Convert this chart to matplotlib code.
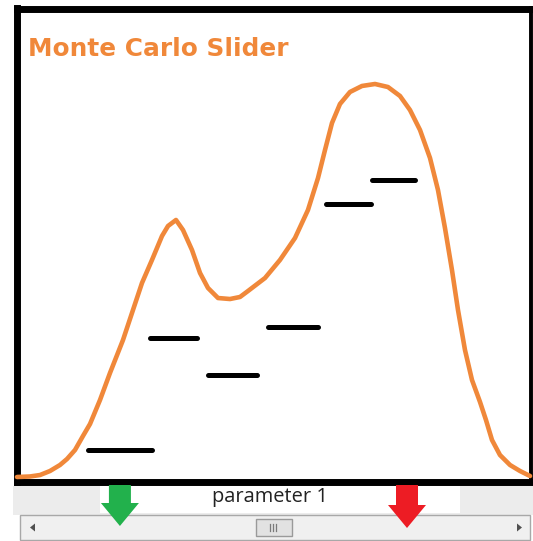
import matplotlib
matplotlib.use("Agg")
import matplotlib.pyplot as plt
from matplotlib.patches import Rectangle, Polygon

# ---- data (parameter value 0..100, density 0..100) ----
curve_x = [0.1, 2.6, 4.57, 6.51, 8.45, 9.82, 11.37, 12.92, 14.29, 16.23, 18.17, 20.70,
           22.64, 24.39, 26.33, 28.28, 29.45, 31.0, 32.36, 34.11, 35.67, 37.22, 39.17,
           41.5, 43.44, 44.99, 48.3, 51.21, 54.13, 56.65, 58.6, 59.96, 61.32,
           62.87, 64.82, 67.15, 69.68, 72.2, 74.54, 76.48, 78.43, 80.37, 81.92, 83.28,
           84.64, 85.81, 87.17, 88.53, 90.09, 91.25, 92.42, 93.97, 95.92, 97.86, 99.81]
curve_y = [0.95, 1.06, 1.37, 2.22, 3.49, 4.76, 6.66, 9.62, 12.16, 17.23, 22.94, 29.92,
           36.26, 41.97, 46.83, 51.90, 54.02, 55.29, 53.17, 48.94, 44.08, 40.91, 38.79,
           38.58, 39.01, 40.27, 43.02, 46.83, 51.48, 57.4, 64.16, 70.08, 75.79,
           79.81, 82.35, 83.62, 84.04, 83.4, 81.5, 78.54, 74.31, 68.39, 61.63, 53.59,
           44.71, 36.26, 27.8, 21.46, 16.81, 13.0, 8.77, 5.6, 3.49, 2.22, 1.16]

bar_x0 = [13.9, 25.9, 37.2, 48.9, 60.2, 69.1]
bar_x1 = [26.3, 35.1, 46.7, 58.6, 68.9, 77.5]
bar_y = [6.66, 30.3, 22.5, 32.7, 58.7, 63.7]

marker_low = 20.1    # green arrow
marker_high = 75.9   # red arrow

title = "Monte Carlo Slider"
slider_label = "parameter 1"

# ---- layout (pixels) ----
W, H = 533, 541
L, R, T, B = 16.5, 531.0, 8.5, 481.5
fig = plt.figure(figsize=(W / 100, H / 100), dpi=100)
fig.patch.set_facecolor("white")

ax = fig.add_axes([L / W, (H - B) / H, (R - L) / W, (B - T) / H])
ax.set_xlim(0, 100)
ax.set_ylim(0, 100)
ax.set_xticks([])
ax.set_yticks([])
for side in ["left", "top", "bottom"]:
    ax.spines[side].set_linewidth(5.0)
    ax.spines[side].set_color("black")
ax.spines["right"].set_linewidth(2.8)
ax.spines["right"].set_color("black")

orange = "#F0883A"
ax.plot(curve_x, curve_y, color=orange, lw=3.3, solid_capstyle="round",
        solid_joinstyle="round", clip_on=False, zorder=3)
bars = ax.hlines(bar_y, bar_x0, bar_x1, colors="black", lw=3.6, zorder=4)
bars.set_capstyle("round")

fig.text(28 / W, 1 - 49 / H, title, color=orange, fontsize=17.8, fontweight="bold",
         family="DejaVu Sans", ha="left", va="center")

# ---- decoration overlay in pixel coordinates ----
d = fig.add_axes([0, 0, 1, 1], facecolor="none")
d.set_xlim(0, W)
d.set_ylim(H, 0)
d.axis("off")

def px(v):
    return L + v * (R - L) / 100.0

# label band
d.add_patch(Rectangle((13, 486), 520, 29, facecolor="#ECECEC", edgecolor="none"))
d.add_patch(Rectangle((100, 486), 360, 27, facecolor="white", edgecolor="none"))
d.text(270, 497, slider_label, ha="center", va="center", fontsize=14.4,
       family="Open Sans", color="#222222")

# scrollbar
d.add_patch(Rectangle((20, 515), 510, 25, facecolor="#F0F0F0", edgecolor="#A8A8A8", lw=1.0))
d.add_patch(Rectangle((256, 519), 36, 17, facecolor="#E2E2E2", edgecolor="#9A9A9A", lw=1.0))
for gx in (270, 273, 276):
    d.plot([gx, gx], [524, 531], color="#7A7A7A", lw=0.9)
d.add_patch(Polygon([[30, 527.5], [35, 523.5], [35, 531.5]], closed=True, facecolor="#505050", edgecolor="none"))
d.add_patch(Polygon([[522, 527.5], [517, 523.5], [517, 531.5]], closed=True, facecolor="#505050", edgecolor="none"))

def arrow(xc, color, y0, yh, ytip):
    sw, hw = 11, 19
    pts = [[xc - sw, y0], [xc + sw, y0], [xc + sw, yh], [xc + hw, yh],
           [xc, ytip], [xc - hw, yh], [xc - sw, yh]]
    d.add_patch(Polygon(pts, closed=True, facecolor=color, edgecolor="none", zorder=5))

arrow(px(marker_low), "#22B14C", 485, 503, 526)
arrow(px(marker_high), "#ED1C24", 485, 505, 528)

fig.savefig("out.png", dpi=100)
